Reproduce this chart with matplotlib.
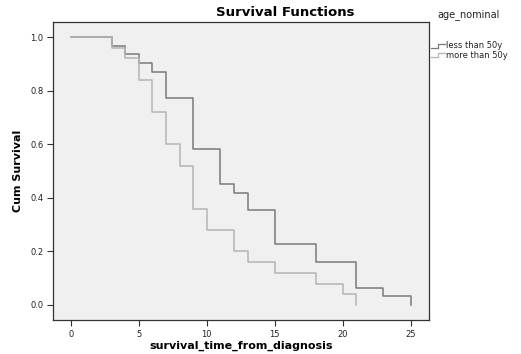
import matplotlib
matplotlib.use("Agg")
import matplotlib.pyplot as plt
from matplotlib.lines import Line2D

# Data: Kaplan-Meier step values
time_less = [0, 3, 4, 5, 6, 7, 9, 11, 12, 13, 15, 18, 21, 23, 25]
surv_less = [1.0, 0.968, 0.935, 0.903, 0.871, 0.774, 0.581, 0.452, 0.419, 0.355, 0.226, 0.161, 0.065, 0.032, 0.0]
time_more = [0, 3, 4, 5, 6, 7, 8, 9, 10, 12, 13, 15, 18, 20, 21]
surv_more = [1.0, 0.96, 0.92, 0.84, 0.72, 0.60, 0.52, 0.36, 0.28, 0.20, 0.16, 0.12, 0.08, 0.04, 0.0]
x_ticks = [0, 5, 10, 15, 20, 25]
y_ticks = [0.0, 0.2, 0.4, 0.6, 0.8, 1.0]
group_labels = ["less than 50y", "more than 50y"]

W, H = 521, 354
fig = plt.figure(figsize=(5.21, 3.54), dpi=100)
fig.patch.set_facecolor("white")
ax = fig.add_axes([53/W, 1-320/H, 376/W, 298/H])
ax.set_facecolor("#f0f0f0")

dark = "#7a7a7a"
light = "#b4b4b4"
ax.step(time_less, surv_less, where="post", color=dark, lw=1.1)
ax.step(time_more, surv_more, where="post", color=light, lw=1.1)

ax.set_xlim(-1.32, 26.35)
ax.set_ylim(-0.056, 1.056)
ax.set_xticks(x_ticks)
ax.set_xticklabels([str(t) for t in x_ticks])
ax.set_yticks(y_ticks)
ax.set_yticklabels([f"{v:.1f}" for v in y_ticks])
for s in ax.spines.values():
    s.set_color("#333333")
    s.set_linewidth(0.9)
ax.tick_params(axis="both", labelsize=6, length=4, width=0.8, color="#333333", pad=3, labelcolor="#222222")

fig.text(285/W, 1-13/H, "Survival Functions", fontsize=9.5, fontweight="bold", ha="center", va="center")
fig.text(241/W, 1-346/H, "survival_time_from_diagnosis", fontsize=8, fontweight="bold", ha="center", va="center")
fig.text(18/W, 1-171/H, "Cum Survival", fontsize=8, fontweight="bold", ha="center", va="center", rotation=90)

# Legend (outside, right)
fig.text(437/W, 1-15/H, "age_nominal", fontsize=7, va="center", ha="left", color="#222222")
for i, (lab, col) in enumerate(zip(group_labels, [dark, light])):
    yc = 46 + i * 9
    xs = [431, 438, 438, 445]
    ys = [yc + 2, yc + 2, yc - 2, yc - 2]
    fig.add_artist(Line2D([x / W for x in xs], [1 - y / H for y in ys], color=col, lw=0.9,
                          transform=fig.transFigure))
    fig.text(446/W, 1 - yc/H, lab, fontsize=6, va="center", ha="left", color="#222222")

fig.savefig("out.png", dpi=100)
